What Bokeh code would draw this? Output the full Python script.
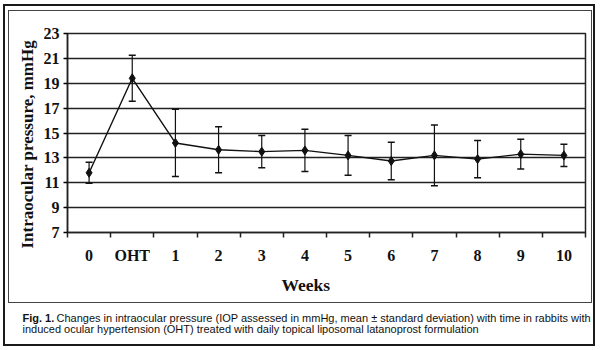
import numpy as np
from bokeh.plotting import figure
from bokeh.models import (ColumnDataSource, Range1d, FixedTicker, Whisker, TeeHead, Title,
                          InlineStyleSheet)
from bokeh.embed import file_html
from bokeh.resources import INLINE

# ---- data ----
categories = ["0", "OHT", "1", "2", "3", "4", "5", "6", "7", "8", "9", "10"]
mean_iop = [11.8, 19.4, 14.2, 13.65, 13.5, 13.6, 13.2, 12.75, 13.2, 12.9, 13.3, 13.2]
sd_iop = [0.85, 1.85, 2.7, 1.85, 1.3, 1.7, 1.6, 1.5, 2.45, 1.5, 1.2, 0.9]
y_ticks = [7, 9, 11, 13, 15, 17, 19, 21, 23]

pos = np.arange(len(categories)) + 0.5
mean_arr = np.array(mean_iop)
sd_arr = np.array(sd_iop)
src = ColumnDataSource(dict(x=pos, y=mean_arr, upper=mean_arr + sd_arr, lower=mean_arr - sd_arr))

SERIF = "Liberation Serif"
SANS = "Liberation Sans"
INK = "#111111"

FL, FR, FT, FB = 67, 585, 33, 232

frame_css = InlineStyleSheet(css="""
:host { position: relative; }
:host::before {
  content: ""; position: absolute; left: 3px; top: 4px; width: 592px; height: 342px;
  border: 2px solid #1a1a1a; box-sizing: border-box; pointer-events: none; z-index: 100;
}
:host::after {
  content: ""; position: absolute; left: 8px; top: 10px; width: 584px; height: 293px;
  border: 1.5px solid #444444; box-sizing: border-box; pointer-events: none; z-index: 100;
}
""")

p = figure(width=600, height=350, output_backend="svg", toolbar_location=None,
           x_range=Range1d(0, len(categories)), y_range=Range1d(7, 23),
           min_border_left=FL, min_border_right=600 - FR, min_border_top=FT,
           min_border_bottom=350 - FB, stylesheets=[frame_css])
p.background_fill_color = "white"
p.border_fill_color = "white"
p.outline_line_color = "#222222"
p.outline_line_width = 1.5

p.xgrid.grid_line_color = None
p.ygrid.ticker = FixedTicker(ticks=y_ticks)
p.ygrid.grid_line_color = "#222222"
p.ygrid.grid_line_width = 1.5

p.yaxis.ticker = FixedTicker(ticks=y_ticks)
p.yaxis.major_label_text_font = SERIF
p.yaxis.major_label_text_font_style = "bold"
p.yaxis.major_label_text_font_size = "16px"
p.yaxis.major_label_text_color = INK
p.yaxis.major_tick_out = 4
p.yaxis.major_tick_in = 0
p.yaxis.minor_tick_line_color = None
p.yaxis.axis_line_color = "#222222"
p.yaxis.axis_line_width = 1.5
p.yaxis.major_tick_line_width = 1.5
p.yaxis.major_label_standoff = 4

p.xaxis.ticker = FixedTicker(ticks=list(pos), minor_ticks=list(range(len(categories) + 1)))
p.xaxis.major_label_overrides = {float(x): c for x, c in zip(pos, categories)}
p.xaxis.major_tick_line_color = None
p.xaxis.major_tick_out = 0
p.xaxis.major_tick_in = 0
p.xaxis.minor_tick_out = 5
p.xaxis.minor_tick_in = 0
p.xaxis.minor_tick_line_width = 1.5
p.xaxis.minor_tick_line_color = "#222222"
p.xaxis.axis_line_color = "#222222"
p.xaxis.axis_line_width = 1.5
p.xaxis.major_label_text_font = SERIF
p.xaxis.major_label_text_font_style = "bold"
p.xaxis.major_label_text_font_size = "16px"
p.xaxis.major_label_text_color = INK
p.xaxis.major_label_standoff = 9

p.line("x", "y", source=src, line_color="#111111", line_width=1.4)
p.add_layout(Whisker(base="x", upper="upper", lower="lower", source=src, dimension="height",
                     line_color="#111111", line_width=1.2,
                     upper_head=TeeHead(size=7, line_color="#111111", line_width=1.5),
                     lower_head=TeeHead(size=7, line_color="#111111", line_width=1.5)))
p.scatter("x", "y", source=src, marker="diamond", size=9, color="#111111")

# y-axis title (left panel, shifted down like the original)
p.add_layout(Title(text="Intraocular pressure, mmHg", text_font=SERIF, text_font_style="bold",
                   text_font_size="17px", text_color=INK, align="left", offset=-16,
                   standoff=7), "left")

# x-axis title and caption as stacked titles below the axis
cap_font = "11px"
p.add_layout(Title(text="Weeks", text_font=SERIF, text_font_style="bold", text_font_size="17.5px",
                   text_color=INK, align="left", offset=214, standoff=12), "below")
p.add_layout(Title(text="\u00a0", text_font=SANS, text_font_size=cap_font, text_color="white",
                   align="left", offset=0, standoff=2), "below")
p.add_layout(Title(text="Fig. 1.", text_font=SANS, text_font_style="bold", text_font_size=cap_font,
                   text_color=INK, align="left", offset=22 - FL, standoff=-15), "below")
p.add_layout(Title(text="Changes in intraocular pressure (IOP assessed in mmHg, mean \u00b1 standard deviation) with time in rabbits with",
                   text_font=SANS, text_font_style="normal", text_font_size=cap_font, text_color=INK,
                   align="left", offset=56 - FL, standoff=-15), "below")
p.add_layout(Title(text="induced ocular hypertension (OHT) treated with daily topical liposomal latanoprost formulation",
                   text_font=SANS, text_font_style="normal", text_font_size=cap_font, text_color=INK,
                   align="left", offset=22 - FL, standoff=9), "below")

open("out.html", "w").write(file_html(p, INLINE))
